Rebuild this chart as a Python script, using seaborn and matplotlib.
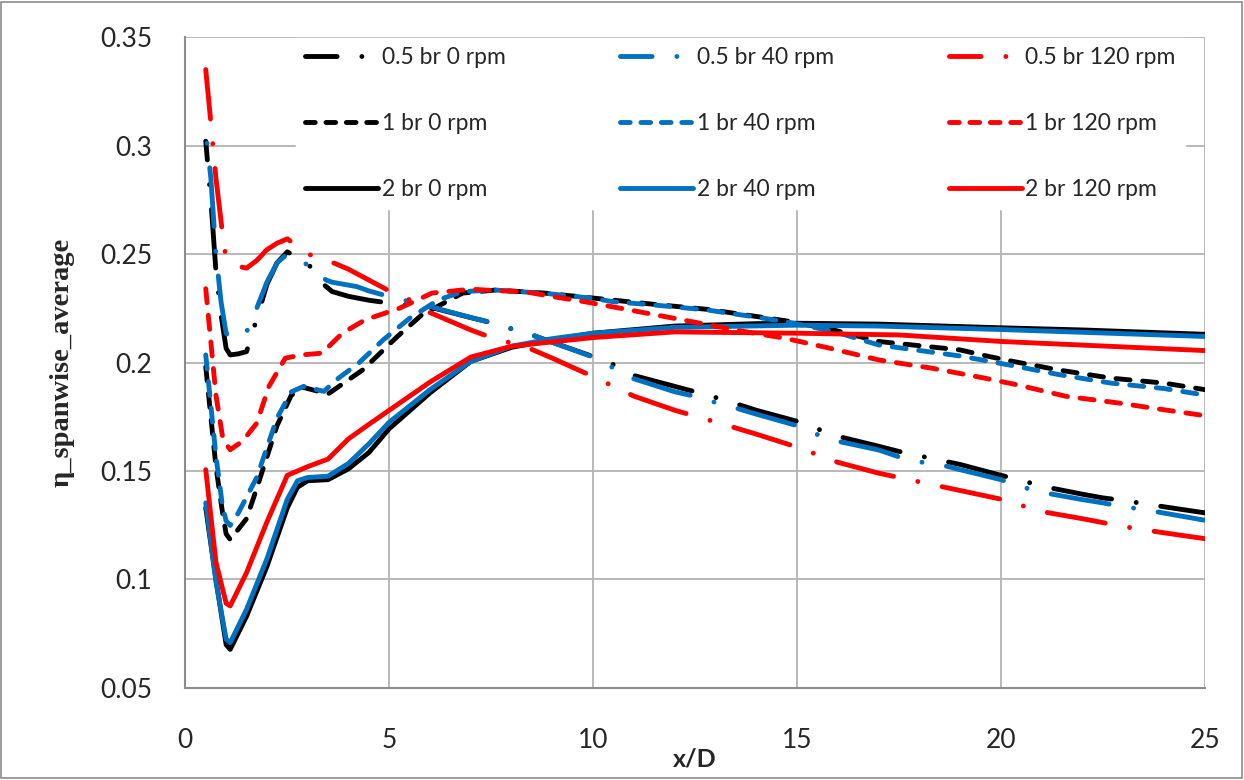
import numpy as np
import pandas as pd
import matplotlib
matplotlib.use("Agg")
import matplotlib.pyplot as plt
from matplotlib.lines import Line2D
from matplotlib.patches import Rectangle
import seaborn as sns

# %% data
x_05_0 = [0.5, 0.625, 0.75, 0.875, 1.0, 1.1, 1.3, 1.5, 1.75, 2.0, 2.25, 2.5, 3.0, 3.35, 3.6, 4.0, 4.5, 5.0,
          6, 7, 7.5, 8, 8.5, 9, 10, 10.5, 11, 12, 12.5, 13, 13.5, 14, 15, 15.5, 16, 17, 17.5, 18, 19, 20,
          20.5, 21, 22, 22.5, 23, 24, 25]
y_05_0 = [0.302, 0.275, 0.242, 0.222, 0.2065, 0.2035, 0.204, 0.205, 0.220, 0.236, 0.246, 0.251, 0.2458, 0.2366,
          0.2327, 0.2305, 0.2287, 0.2274, 0.2255, 0.2207, 0.2184, 0.2155, 0.2127, 0.2093, 0.2027, 0.199, 0.194,
          0.189, 0.1865, 0.1839, 0.181, 0.178, 0.1729, 0.1694, 0.166, 0.1614, 0.159, 0.157, 0.153, 0.148,
          0.1457, 0.143, 0.1393, 0.1376, 0.1364, 0.1335, 0.1307]

x_05_40 = [0.5, 0.625, 0.75, 0.875, 1.0, 1.1, 1.3, 1.5, 1.75, 2.0, 2.25, 2.5, 3.0, 3.45, 3.6, 4.2, 4.5, 5.0,
           6, 7, 7.5, 8, 8.5, 9, 10, 10.5, 11, 12, 12.5, 13, 13.5, 14, 15, 15.5, 16, 17, 17.5, 18, 18.5, 19,
           20, 20.5, 21, 22, 22.5, 23, 23.5, 24, 25]
y_05_40 = [0.307, 0.285, 0.250, 0.228, 0.2135, 0.2112, 0.2125, 0.214, 0.225, 0.237, 0.246, 0.250, 0.245, 0.238,
           0.237, 0.235, 0.233, 0.2304, 0.2258, 0.2207, 0.2184, 0.2155, 0.2127, 0.2093, 0.2025, 0.1975, 0.1925,
           0.1865, 0.1844, 0.1816, 0.179, 0.1762, 0.1709, 0.1668, 0.1637, 0.1597, 0.1565, 0.1542, 0.153, 0.1506,
           0.146, 0.1427, 0.1402, 0.1368, 0.1353, 0.1335, 0.1323, 0.1306, 0.1273]

x_05_120 = [0.5, 0.6, 0.75, 0.87, 0.95, 1.0, 1.25, 1.5, 1.75, 2.0, 2.25, 2.5, 3.0, 3.5, 4.0, 4.5, 5.0, 5.4,
            6, 7, 7.5, 8, 8.5, 9, 10, 11, 12, 13, 14, 15, 16, 17, 18, 19, 20, 21, 22, 23, 24, 25]
y_05_120 = [0.335, 0.3155, 0.285, 0.266, 0.253, 0.249, 0.2445, 0.2435, 0.247, 0.252, 0.255, 0.257, 0.250, 0.247,
            0.243, 0.238, 0.233, 0.230, 0.223, 0.215, 0.2115, 0.209, 0.206, 0.202, 0.1935, 0.1845, 0.178,
            0.1726, 0.167, 0.161, 0.154, 0.149, 0.145, 0.141, 0.137, 0.1313, 0.128, 0.1244, 0.1215, 0.1188]

x_1_0 = [0.5, 0.75, 0.91, 1.0, 1.1, 1.5, 1.75, 2.25, 2.6, 2.9, 3.5, 4.35, 5.2, 5.8, 6.8, 7.6, 8.8, 10, 11.5,
         12.8, 13.9, 14.7, 15.9, 17, 19, 19.7, 20.3, 21.4, 22.7, 24, 25]
y_1_0 = [0.198, 0.152, 0.131, 0.121, 0.1184, 0.128, 0.142, 0.171, 0.185, 0.1885, 0.1855, 0.1966, 0.212, 0.222,
         0.232, 0.2334, 0.232, 0.2297, 0.2268, 0.2245, 0.2215, 0.2193, 0.215, 0.2097, 0.2058, 0.2028, 0.2005,
         0.1966, 0.1928, 0.1905, 0.1875]

x_1_40 = [0.5, 0.75, 0.91, 1.0, 1.1, 1.3, 1.75, 2.25, 2.6, 2.9, 3.4, 3.7, 4.25, 4.85, 5.5, 6.2, 6.8, 7.6, 8.8,
          10, 10.5, 11.5, 12.8, 13.9, 14.7, 15.9, 17, 19, 20.3, 21.4, 22.7, 24, 25]
y_1_40 = [0.2035, 0.157, 0.1338, 0.127, 0.1249, 0.1307, 0.147, 0.1745, 0.1865, 0.189, 0.1867, 0.192, 0.1997,
          0.2104, 0.2204, 0.2288, 0.2327, 0.2334, 0.2319, 0.2296, 0.228, 0.2265, 0.2242, 0.2212, 0.2189, 0.2143,
          0.2081, 0.203, 0.1985, 0.1945, 0.1905, 0.188, 0.185]

x_1_120 = [0.5, 0.75, 0.91, 1.0, 1.1, 1.4, 1.75, 2.05, 2.45, 2.85, 3.35, 3.85, 4.4, 5.25, 6.05, 7.0, 7.6, 8.3,
           9.0, 9.8, 10.9, 12.2, 13.7, 14.7, 15.8, 17.0, 18.3, 19.6, 20.4, 21.6, 22.9, 24, 25]
y_1_120 = [0.234, 0.185, 0.166, 0.1625, 0.1598, 0.1637, 0.172, 0.189, 0.202, 0.2035, 0.2043, 0.2135, 0.2196,
           0.225, 0.232, 0.2338, 0.2331, 0.2327, 0.2304, 0.228, 0.2242, 0.2196, 0.2143, 0.2112, 0.2066, 0.2012,
           0.1974, 0.1928, 0.1897, 0.1844, 0.1813, 0.1782, 0.1755]

x_2_0 = [0.5, 0.75, 1.0, 1.1, 1.5, 2.0, 2.5, 2.75, 3.0, 3.5, 4.0, 4.5, 5.0, 6, 7, 8, 9, 10, 12, 14, 15, 17,
         20, 22, 25]
y_2_0 = [0.133, 0.100, 0.070, 0.0678, 0.083, 0.106, 0.133, 0.1425, 0.1455, 0.146, 0.151, 0.1585, 0.1695, 0.186,
         0.2005, 0.207, 0.2105, 0.2135, 0.2168, 0.2179, 0.2181, 0.2177, 0.216, 0.215, 0.213]

x_2_40 = [0.5, 0.75, 1.0, 1.1, 1.5, 2.0, 2.5, 2.75, 3.0, 3.5, 4.0, 4.5, 5.0, 6, 7, 8, 9, 10, 12, 15, 17, 20, 25]
y_2_40 = [0.1353, 0.099, 0.0725, 0.0709, 0.0862, 0.1095, 0.137, 0.1455, 0.147, 0.1476, 0.1535, 0.1625, 0.1725,
          0.1875, 0.2005, 0.2075, 0.211, 0.2135, 0.2162, 0.2172, 0.2168, 0.2152, 0.212]

x_2_120 = [0.5, 0.75, 1.0, 1.1, 1.5, 2.0, 2.5, 3.0, 3.5, 4.0, 4.5, 5.0, 6, 7, 8, 9, 10, 12, 15, 17.5, 20, 25]
y_2_120 = [0.1506, 0.108, 0.089, 0.0878, 0.1031, 0.1265, 0.148, 0.152, 0.1555, 0.1648, 0.1715, 0.178, 0.191,
           0.2025, 0.2075, 0.2095, 0.2115, 0.2141, 0.2135, 0.2127, 0.2097, 0.2055]

labels = ["0.5 br 0 rpm", "1 br 0 rpm", "2 br 0 rpm",
          "0.5 br 40 rpm", "1 br 40 rpm", "2 br 40 rpm",
          "0.5 br 120 rpm", "1 br 120 rpm", "2 br 120 rpm"]
xs = [x_05_0, x_1_0, x_2_0, x_05_40, x_1_40, x_2_40, x_05_120, x_1_120, x_2_120]
ys = [y_05_0, y_1_0, y_2_0, y_05_40, y_1_40, y_2_40, y_05_120, y_1_120, y_2_120]

# %% styles
colors = {"0 rpm": "#000000", "40 rpm": "#0070C0", "120 rpm": "#FF0000"}
lw = 3.5
dashdot = [12.1, 5.1, 0.01, 5.1]
styles = {"0.5 br": dashdot, "1 br": [2.9, 2.6], "2 br": None}
legend_styles = {"0.5 br": (0, (6.5, 5.1, 0.01, 5.1)), "1 br": (0, (2.0, 2.2)), "2 br": "-"}

sns.set_style("white")
plt.rcParams["font.family"] = ["Lato", "DejaVu Sans"]

fig = plt.figure(figsize=(12.44, 7.8), dpi=100)
ax = fig.add_axes([0.149, 0.118, 0.8195, 0.8345])
ax.set_xlim(0, 25)
ax.set_ylim(0.05, 0.35)


def pattern_offset(x, y, x_start, pattern):
    # shift the dash pattern so a dash starts at x_start
    pts = ax.transData.transform(np.column_stack([x, y])) * 72 / fig.dpi
    seg = np.hypot(*np.diff(pts, axis=0).T)
    length = seg[np.array(x[1:]) <= x_start].sum()
    period = sum(pattern) * lw
    return ((-length) % period) / lw


handles = []
for lab, x, y in zip(labels, xs, ys):
    br = lab.split(" br")[0] + " br"
    rpm = lab.split("br ")[1]
    pat = styles[br]
    if pat is None:
        ls = "-"
    elif br == "0.5 br":
        ls = (pattern_offset(x, y, 6, pat), tuple(pat))
    else:
        ls = (0, tuple(pat))
    df = pd.DataFrame({"x": x, "y": y})
    sns.lineplot(data=df, x="x", y="y", ax=ax, color=colors[rpm], linewidth=lw,
                 linestyle=ls, dash_capstyle="round", solid_capstyle="round",
                 solid_joinstyle="round", sort=False, estimator=None)
    handles.append(Line2D([], [], color=colors[rpm], linewidth=lw, linestyle=legend_styles[br],
                          dash_capstyle="round", solid_capstyle="round", label=lab))

ax.set_xlim(0, 25)
ax.set_ylim(0.05, 0.35)
ax.set_xticks([0, 5, 10, 15, 20, 25])
ax.set_yticks([0.05, 0.1, 0.15, 0.2, 0.25, 0.3, 0.35])
ax.set_yticklabels(["0.05", "0.1", "0.15", "0.2", "0.25", "0.3", "0.35"])
ax.grid(True, color="#b3b3b3", linewidth=1.3)
ax.set_axisbelow(True)
for s in ["top", "right"]:
    ax.spines[s].set_visible(False)
for s in ["left", "bottom"]:
    ax.spines[s].set_color("#8c8c8c")
    ax.spines[s].set_linewidth(1.5)
ax.tick_params(axis="both", length=0, labelsize=19)
ax.tick_params(axis="y", pad=24)
ax.tick_params(axis="x", pad=29)

ax.set_xlabel("x/D", fontsize=18, fontweight="bold", labelpad=-4)
ax.set_ylabel("η_spanwise_average", fontsize=20.5, fontweight="bold",
              family=["Liberation Serif", "DejaVu Serif"], labelpad=18)

leg = ax.legend(handles=handles, ncol=3, loc="upper left", bbox_to_anchor=(0.097, 1.016),
                fontsize=16.5, handlelength=3.2, handletextpad=0.15, columnspacing=5.0,
                labelspacing=1.96, borderpad=0.4, frameon=True, framealpha=1,
                facecolor="white", edgecolor="white", fancybox=False)

fig.add_artist(Rectangle((0.001, 0.002), 0.997, 0.996, transform=fig.transFigure,
                         fill=False, edgecolor="#8c8c8c", linewidth=1.2))

fig.savefig("out.png", dpi=100)
